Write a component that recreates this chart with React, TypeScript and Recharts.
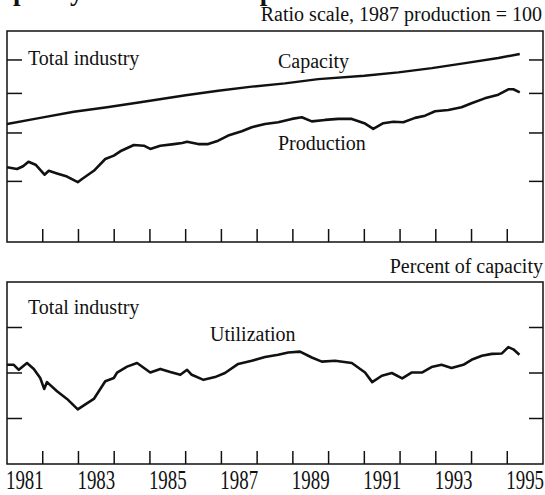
import { LineChart, Line, XAxis, YAxis, ReferenceArea, ReferenceLine } from "recharts";

// capacity and production, ratio scale (1987 production = 100)
const capYears = [1981.0, 1981.93, 1982.87, 1983.8, 1984.73, 1986.0, 1986.91, 1987.85, 1988.78, 1989.71, 1991.0, 1991.95, 1992.89, 1993.82, 1994.75, 1995.35];
const capValues = [104.2, 107.2, 110.3, 112.6, 115.2, 119.0, 121.5, 123.8, 125.7, 128.2, 130.2, 132.2, 134.8, 138.0, 141.3, 143.9];

const prodYears = [1981.0, 1981.28, 1981.45, 1981.6, 1981.8, 1982.05, 1982.17, 1982.4, 1982.68, 1982.98, 1983.1, 1983.43, 1983.75, 1983.99, 1984.17, 1984.55, 1984.83, 1985.01, 1985.29, 1985.67, 1985.9, 1986.04, 1986.35, 1986.63, 1986.91, 1987.19, 1987.57, 1987.85, 1988.22, 1988.59, 1988.97, 1989.25, 1989.53, 1989.9, 1990.27, 1990.65, 1991.0, 1991.25, 1991.53, 1991.81, 1992.09, 1992.42, 1992.7, 1992.98, 1993.35, 1993.72, 1994.0, 1994.37, 1994.75, 1995.03, 1995.17, 1995.35];
const prodValues = [85.4, 84.7, 85.8, 87.6, 86.4, 82.5, 84.0, 83.0, 81.8, 79.7, 80.9, 84.0, 88.7, 90.1, 91.9, 94.6, 94.3, 92.9, 94.3, 95.0, 95.5, 96.0, 95.0, 95.0, 96.5, 98.8, 100.8, 102.7, 104.2, 105.1, 106.7, 107.5, 105.5, 106.2, 106.7, 106.7, 104.6, 101.9, 104.6, 105.3, 105.1, 107.2, 108.3, 110.5, 111.2, 112.6, 114.7, 117.3, 119.3, 122.3, 122.3, 120.6];

// utilization, percent of capacity
const utilYears = [1981.0, 1981.19, 1981.33, 1981.56, 1981.75, 1981.93, 1982.04, 1982.12, 1982.4, 1982.68, 1982.98, 1983.15, 1983.43, 1983.75, 1983.99, 1984.08, 1984.36, 1984.64, 1985.01, 1985.29, 1985.57, 1985.85, 1986.04, 1986.17, 1986.5, 1986.82, 1987.1, 1987.47, 1987.85, 1988.22, 1988.59, 1988.87, 1989.2, 1989.53, 1989.81, 1990.18, 1990.65, 1991.02, 1991.22, 1991.49, 1991.77, 1992.06, 1992.32, 1992.61, 1992.88, 1993.16, 1993.44, 1993.77, 1994.0, 1994.29, 1994.57, 1994.85, 1995.03, 1995.17, 1995.34];
const utilValues = [81.8, 81.8, 80.7, 82.2, 80.9, 78.9, 76.5, 78.0, 76.0, 74.3, 72.0, 72.9, 74.3, 78.2, 78.9, 80.1, 81.4, 82.2, 80.1, 80.9, 80.2, 79.6, 80.7, 79.6, 78.5, 79.1, 80.0, 82.0, 82.7, 83.5, 84.0, 84.5, 84.7, 83.4, 82.5, 82.7, 82.2, 80.1, 78.0, 79.4, 80.0, 78.8, 80.1, 80.1, 81.3, 81.8, 81.1, 81.8, 82.9, 83.8, 84.2, 84.3, 85.7, 85.2, 84.0];

const yearTicks = [1982, 1983, 1984, 1985, 1986, 1987, 1988, 1989, 1990, 1991, 1992, 1993, 1994, 1995];
const yearLabels = [1981, 1983, 1985, 1987, 1989, 1991, 1993, 1995];
const topTicks = [80, 100, 120, 140];
const bottomTicks = [70, 80, 90];

const X_DOMAIN = [1981, 1996];
const TOP_DOMAIN = [60.5, 160];
const BOTTOM_DOMAIN = [60, 100];
// length of the year tick marks in the lower panel, in percent units (about 13px)
const BOTTOM_TICK_LEN = 2.86;

const INK = "#111";
const FONT = '"Liberation Serif", "Times New Roman", serif';

const toPoints = (xs: number[], ys: number[]) => xs.map((year, i) => ({ year, v: ys[i] }));

const capacity = toPoints(capYears, capValues);
const production = toPoints(prodYears, prodValues);
const utilization = toPoints(utilYears, utilValues);

// inward tick marks; tick size is zero, so x/y sits on the frame edge
function InTick({ x, y, side }: any) {
  if (side === "left") return <line x1={x} x2={x + 15} y1={y} y2={y} stroke={INK} strokeWidth={1.5} />;
  if (side === "right") return <line x1={x - 14} x2={x} y1={y} y2={y} stroke={INK} strokeWidth={1.5} />;
  return <line x1={x} x2={x} y1={y - 13} y2={y} stroke={INK} strokeWidth={1.5} />;
}

// year label at mid-year, typeset tall and narrow like the original
function YearLabel({ x, y, payload }: any) {
  return (
    <text
      transform={`translate(${x},${y + 25}) scale(0.7,1)`}
      textAnchor="middle"
      fontFamily={FONT}
      fontSize={27}
      fill={INK}
    >
      {Math.floor(payload.value)}
    </text>
  );
}

const axisCommon = {
  allowDataOverflow: true,
  interval: 0 as const,
  tickSize: 0,
  tickMargin: 0,
  axisLine: false,
  tickLine: false,
};

export default function App() {
  return (
    <div style={{ position: "absolute", left: 0, top: 0, width: 545, height: 495, background: "#fff" }}>
      {/* top panel */}
      <div style={{ position: "absolute", left: 0, top: 0 }}>
        <LineChart width={545} height={250} margin={{ top: 31, right: 2, bottom: 7, left: 7 }}>
          <XAxis xAxisId="x" type="number" dataKey="year" domain={X_DOMAIN} ticks={yearTicks} height={1}
            {...axisCommon} tick={<InTick side="bottom" />} />
          <YAxis yAxisId="l" type="number" scale="log" domain={TOP_DOMAIN} ticks={topTicks}
            orientation="left" mirror {...axisCommon} tick={<InTick side="left" />} />
          <YAxis yAxisId="r" type="number" scale="log" domain={TOP_DOMAIN} ticks={topTicks}
            orientation="right" mirror {...axisCommon} tick={<InTick side="right" />} />
          <ReferenceArea xAxisId="x" yAxisId="l" x1={X_DOMAIN[0]} x2={X_DOMAIN[1]} y1={TOP_DOMAIN[0]} y2={TOP_DOMAIN[1]}
            fill="none" fillOpacity={0} stroke={INK} strokeWidth={1.5} ifOverflow="visible" />
          <Line xAxisId="x" yAxisId="l" data={capacity} dataKey="v" type="linear" stroke={INK} strokeWidth={2.4}
            dot={false} isAnimationActive={false} strokeLinejoin="round" />
          <Line xAxisId="x" yAxisId="l" data={production} dataKey="v" type="linear" stroke={INK} strokeWidth={2.6}
            dot={false} isAnimationActive={false} strokeLinejoin="round" />
        </LineChart>
      </div>

      {/* bottom panel */}
      <div style={{ position: "absolute", left: 0, top: 250 }}>
        <LineChart width={545} height={245} margin={{ top: 32, right: 2, bottom: 30, left: 7 }}>
          <XAxis xAxisId="x" type="number" dataKey="year" domain={X_DOMAIN} ticks={yearLabels.map((y) => y + 0.5)}
            height={1} {...axisCommon} tick={<YearLabel />} />
          <YAxis yAxisId="l" type="number" domain={BOTTOM_DOMAIN} ticks={bottomTicks}
            orientation="left" mirror {...axisCommon} tick={<InTick side="left" />} />
          <YAxis yAxisId="r" type="number" domain={BOTTOM_DOMAIN} ticks={bottomTicks}
            orientation="right" mirror {...axisCommon} tick={<InTick side="right" />} />
          <ReferenceArea xAxisId="x" yAxisId="l" x1={X_DOMAIN[0]} x2={X_DOMAIN[1]} y1={BOTTOM_DOMAIN[0]} y2={BOTTOM_DOMAIN[1]}
            fill="none" fillOpacity={0} stroke={INK} strokeWidth={1.5} ifOverflow="visible" />
          {yearTicks.map((yr) => (
            <ReferenceLine key={yr} xAxisId="x" yAxisId="l" ifOverflow="visible" stroke={INK} strokeWidth={1.5}
              segment={[{ x: yr, y: BOTTOM_DOMAIN[0] }, { x: yr, y: BOTTOM_DOMAIN[0] + BOTTOM_TICK_LEN }]} />
          ))}
          <Line xAxisId="x" yAxisId="l" data={utilization} dataKey="v" type="linear" stroke={INK} strokeWidth={2.6}
            dot={false} isAnimationActive={false} strokeLinejoin="round" />
        </LineChart>
      </div>

      {/* text */}
      <svg width={545} height={495} style={{ position: "absolute", left: 0, top: 0, pointerEvents: "none" }}
        fontFamily={FONT} fill={INK} fontSize={20}>
        <text x={-20} y={0} fontSize={27} fontWeight="bold">Capacity and industrial production</text>
        <text x={542} y={20.5} textAnchor="end">Ratio scale, 1987 production = 100</text>
        <text x={28} y={65}>Total industry</text>
        <text x={278} y={67.5}>Capacity</text>
        <text x={278} y={150}>Production</text>
        <text x={543} y={272.5} textAnchor="end">Percent of capacity</text>
        <text x={28} y={314}>Total industry</text>
        <text x={210} y={340.5}>Utilization</text>
      </svg>
    </div>
  );
}
